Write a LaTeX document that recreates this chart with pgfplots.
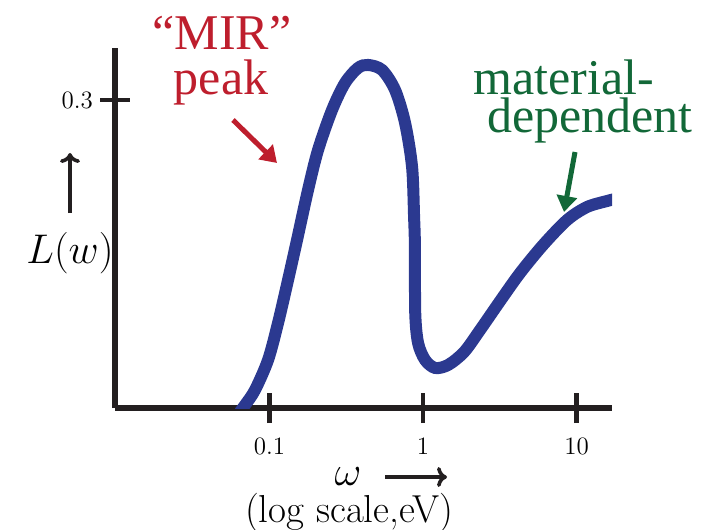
\documentclass[border=0pt]{standalone}
\usepackage{fontspec}
\usepackage{pgfplots}
\pgfplotsset{compat=1.18}
\usetikzlibrary{arrows.meta}
\newfontfamily\tnr{Liberation Serif}
\definecolor{curveblue}{RGB}{43,57,144}
\definecolor{mirred}{RGB}{190,30,45}
\definecolor{matgreen}{RGB}{18,104,56}
\definecolor{axblack}{RGB}{35,31,32}

% loss function L(w)
\pgfplotstableread{
w      L
0.0640 -0.004
0.0692 0.0029
0.0804 0.0175
0.0978 0.0468
0.1136 0.0828
0.1320 0.1247
0.1510 0.1636
0.1781 0.2123
0.2070 0.2513
0.2554 0.2903
0.3103 0.3166
0.3772 0.3312
0.4382 0.3341
0.5406 0.3292
0.6571 0.3097
0.7634 0.2776
0.8479 0.2347
0.8738 0.1860
0.8850 0.1568
0.8890 0.0925
0.9277 0.0633
1.0304 0.0468
1.1972 0.0390
1.4549 0.0419
1.8498 0.0545
2.3510 0.0760
3.1749 0.1042
4.2834 0.1315
6.0495 0.1588
8.6741 0.1831
11.705 0.1958
15.80  0.2016
17.82  0.2036
}\losscurve

\begin{document}
\begin{tikzpicture}
\path[use as bounding box] (0,0) rectangle (357.5pt,-264.5pt);
\begin{axis}[
    at={(57.5pt,-204pt)}, anchor=south west,
    width=248.5pt, height=180pt, scale only axis,
    xmode=log,
    xmin=0.00985, xmax=17.0,
    ymin=0, ymax=0.3506,
    axis x line=bottom, axis y line=left,
    axis line style={-, line width=3pt, axblack},
    xtick={0.1,1,10}, xticklabels={0.1,1,10},
    ytick={0.3}, yticklabels={0.3},
    minor xtick={}, minor ytick={},
    tick align=center,
    major tick length=15pt,
    tick style={line width=2.2pt, axblack},
    xticklabel style={font=\fontsize{12.5}{14}\selectfont, yshift=-4pt},
    yticklabel style={font=\fontsize{12.5}{14}\selectfont},
]
\addplot[curveblue, line width=6pt, smooth] table[x=w, y=L] {\losscurve};
\end{axis}

% y label
\node[font=\fontsize{20}{22}\selectfont] at (35pt,-126.5pt) {$L(w)$};
\draw[line width=1.8pt, axblack, -{To[length=5pt,width=10pt]}] (35pt,-106.5pt) -- (35pt,-76.5pt);

% x label
\node[font=\fontsize{21}{22}\selectfont] at (174pt,-238.5pt) {$\omega$};
\draw[line width=1.8pt, axblack, -{To[length=5pt,width=10pt]}] (192.5pt,-238.5pt) -- (223.5pt,-238.5pt);
\node[anchor=base, font=\fontsize{19.5}{21}\selectfont] at (174.5pt,-261pt) {(log scale,eV)};

% annotations
\tikzset{note/.style={anchor=base, inner sep=0pt, font=\tnr\fontsize{25}{26}\selectfont}}
\node[note, mirred] at (111pt,-25pt) {“MIR”};
\node[note, mirred] at (110.5pt,-47.5pt) {peak};
\draw[mirred, line width=2.5pt, -{Triangle[length=8pt,width=10pt]}] (116.5pt,-60pt) -- (138.5pt,-81.5pt);

\node[note, matgreen] at (282pt,-47.5pt) {material-};
\node[note, matgreen] at (295pt,-66.5pt) {dependent};
\draw[matgreen, line width=2.5pt, -{Triangle[length=8pt,width=10pt]}] (287.5pt,-76pt) -- (282pt,-106pt);
\end{tikzpicture}
\end{document}
